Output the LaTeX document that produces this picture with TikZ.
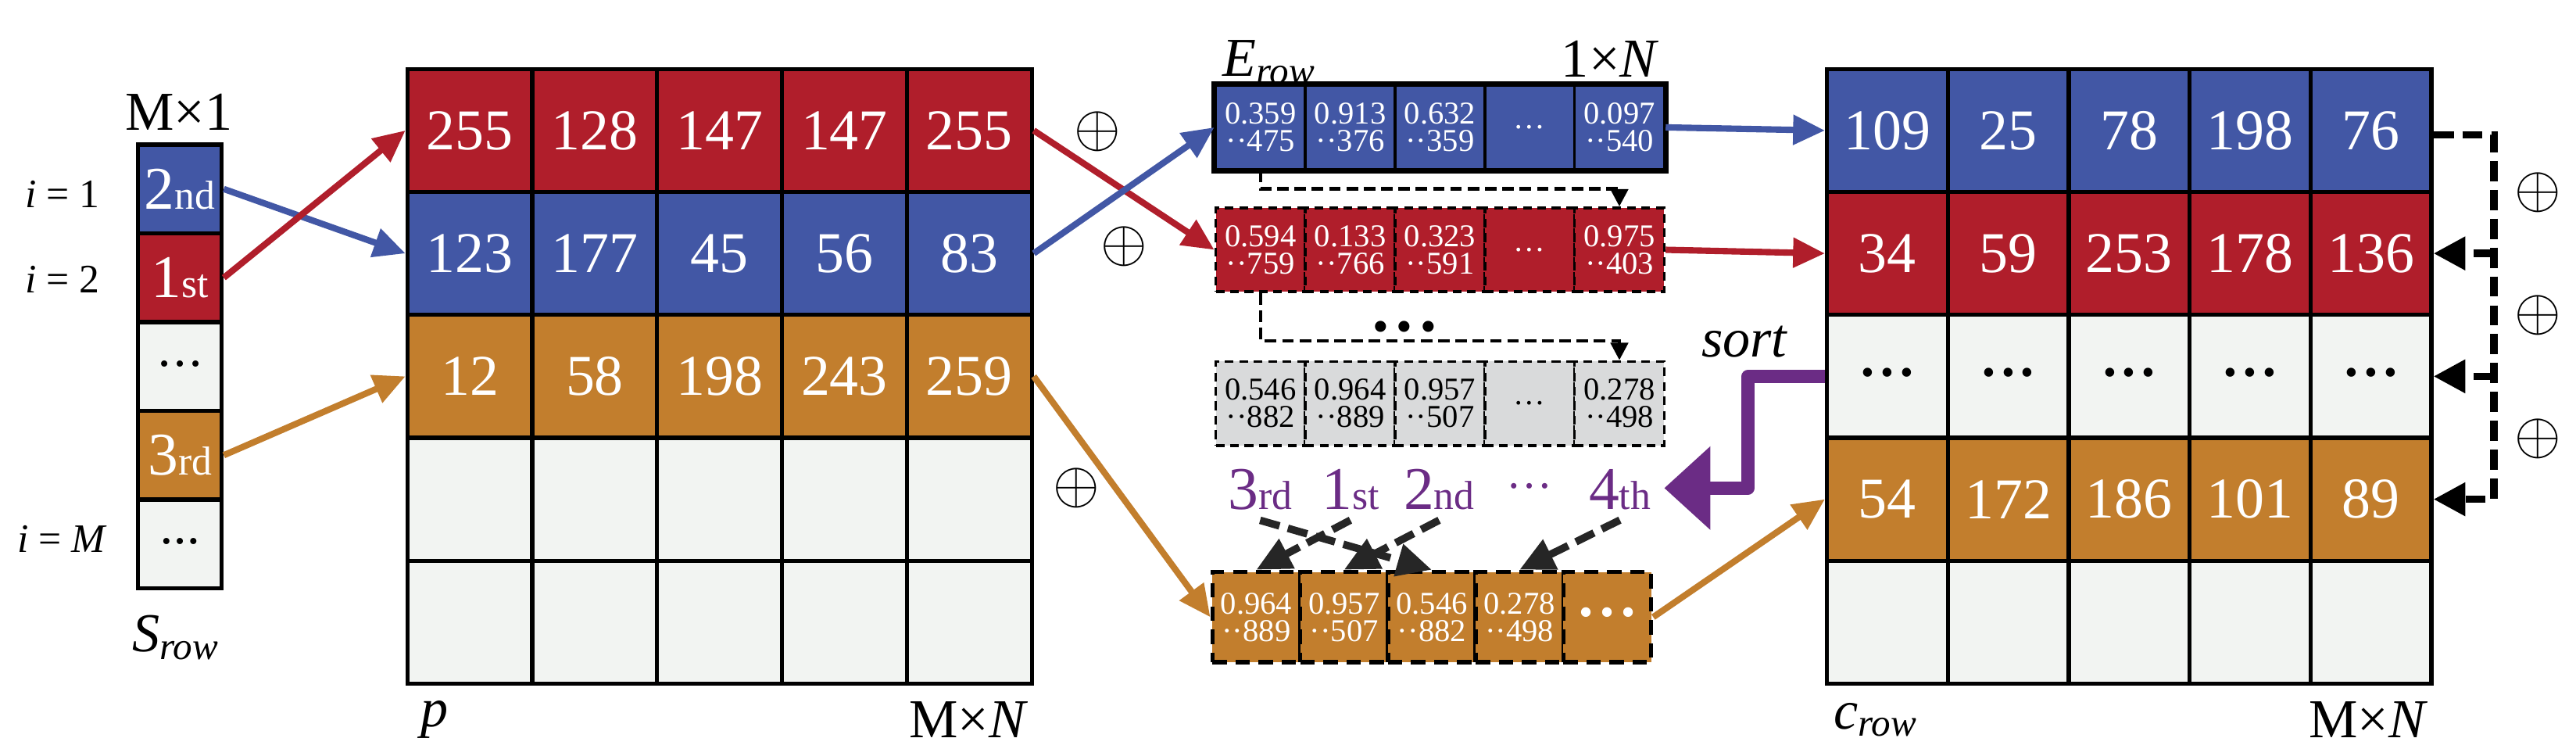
\documentclass[tikz,border=0pt]{standalone}
\usepackage{fontspec}
\setmainfont{Liberation Serif}
\usetikzlibrary{arrows.meta}
\definecolor{cr}{HTML}{B01E2B}
\definecolor{cb}{HTML}{4257A5}
\definecolor{co}{HTML}{C27E2D}
\definecolor{cl}{HTML}{F2F4F2}
\definecolor{cg}{HTML}{D9DADB}
\definecolor{cp}{HTML}{6B2C85}
\newcommand{\rk}[2]{{\fontsize{21}{21}\selectfont #1}{\fontsize{14}{14}\selectfont #2}}
\newcommand{\two}[2]{#1\\[-1pt]\textperiodcentered\textperiodcentered#2}
\newcommand{\iv}[2]{\textit{#1}\textsubscript{\textit{#2}}}
\newcommand{\bdots}{\textbullet\,\textbullet\,\textbullet}
\begin{document}
\begin{tikzpicture}[x=0.02cm,y=-0.02cm,
  pc/.style={draw=black,line width=1.4pt,minimum width=76*0.02cm,minimum height=74.8*0.02cm,inner sep=0,text=white,font=\fontsize{20}{20}\selectfont},
  cc/.style={pc,minimum width=73.6*0.02cm},
  sc/.style={draw=black,line width=1.4pt,minimum width=51*0.02cm,minimum height=54*0.02cm,inner sep=0,text=white},
  ec/.style={draw=black,line width=1pt,minimum width=54.6*0.02cm,minimum height=51*0.02cm,inner sep=0,text=white,align=center,font=\fontsize{11}{10.5}\selectfont},
  ed/.style={ec,dashed,dash pattern=on 3pt off 2pt},
  oc/.style={ec,dashed,line width=1.5pt,dash pattern=on 5pt off 3pt,minimum width=53.4*0.02cm,minimum height=55*0.02cm},
  carr/.style={line width=2.2pt,-{Triangle[length=11pt,width=10pt]}},
  darr/.style={line width=1.2pt,dashed,dash pattern=on 4pt off 2pt,-{Triangle[length=6pt,width=6pt]}},
  karr/.style={line width=2.6pt,black!85,dash pattern=on 7pt off 3pt,-{Triangle[length=12pt,width=11pt]}},
  rarr/.style={line width=2.6pt,dash pattern=on 7pt off 3pt,-{Triangle[length=11pt,width=11pt]}},
  lab/.style={font=\fontsize{19}{19}\selectfont},
  ilab/.style={font=\fontsize{14}{14}\selectfont},
  oplus/.style={font=\fontsize{20}{20}\selectfont}]
\useasboundingbox (0,0) rectangle (1568,460);

% S_row
\node[sc,fill=cb] (s1) at (109.5,115) {\rk{2}{nd}};
\node[sc,fill=cr] (s2) at (109.5,169) {\rk{1}{st}};
\node[sc,fill=cl,text=black,font=\small] (s3) at (109.5,223) {\textbullet\ \textbullet\ \textbullet};
\node[sc,fill=co] (s4) at (109.5,277) {\rk{3}{rd}};
\node[sc,fill=cl,text=black,font=\small] (s5) at (109.5,331) {\bdots};
\node[lab] (sdim) at (109,68) {M\texttimes1};
\node[ilab] (i1) at (38,118) {\textit{i} = 1};
\node[ilab] (i2) at (38,170) {\textit{i} = 2};
\node[ilab] (iM) at (38,328) {\textit{i} = \textit{M}};
\node[lab] (srow) at (107,388) {\iv{S}{row}};

% p matrix
\foreach \v [count=\j] in {255,128,147,147,255}
  \node[pc,fill=cr] (p1\j) at ({248+76*(\j-0.5)},79.4) {\v};
\foreach \v [count=\j] in {123,177,45,56,83}
  \node[pc,fill=cb] (p2\j) at ({248+76*(\j-0.5)},154.2) {\v};
\foreach \v [count=\j] in {12,58,198,243,259}
  \node[pc,fill=co] (p3\j) at ({248+76*(\j-0.5)},229) {\v};
\foreach \j in {1,...,5}{
  \node[pc,fill=cl] (p4\j) at ({248+76*(\j-0.5)},303.8) {};
  \node[pc,fill=cl] (p5\j) at ({248+76*(\j-0.5)},378.6) {};}
\node[lab,anchor=west] (plab) at (250,438) {\textit{p}};
\node[lab,anchor=east] (pdim) at (632,438) {M\texttimes\textit{N}};

\draw[carr,cb] (s1.east) -- (p21.west);
\draw[carr,cr] (s2.east) -- (p11.west);
\draw[carr,co] (s4.east) -- (p31.west);

% E rows
\foreach \t [count=\j] in {{\two{0.359}{475}},{\two{0.913}{376}},{\two{0.632}{359}},{\dots},{\two{0.097}{540}}}
  \node[ec,fill=cb] (b\j) at ({740+54.6*(\j-0.5)},77.5) {\t};
\draw[line width=1.8pt] (b1.north west) rectangle (b5.south east);
\foreach \t [count=\j] in {{\two{0.594}{759}},{\two{0.133}{766}},{\two{0.323}{591}},{\dots},{\two{0.975}{403}}}
  \node[ed,fill=cr] (r\j) at ({740+54.6*(\j-0.5)},152) {\t};
\foreach \t [count=\j] in {{\two{0.546}{882}},{\two{0.964}{889}},{\two{0.957}{507}},{\dots},{\two{0.278}{498}}}
  \node[ed,fill=cg,text=black] (g\j) at ({740+54.6*(\j-0.5)},245.5) {\t};
\foreach \t [count=\j] in {{\two{0.964}{889}},{\two{0.957}{507}},{\two{0.546}{882}},{\two{0.278}{498}},{\fontsize{14}{14}\selectfont\textbullet\,\textbullet\,\textbullet}}
  \node[oc,fill=co] (o\j) at ({738+53.4*(\j-0.5)},375.5) {\t};
\node[lab,anchor=west] (elab) at (738,38) {\iv{E}{row}};
\node[lab,anchor=east] (edim) at (1016,36) {1\texttimes\textit{N}};
\node[font=\fontsize{16}{16}\selectfont] (edots) at (855,202) {\textbullet\,\textbullet\,\textbullet};

\draw[darr] (b1.south) -- ++(0,11) -| (r5.north);
\draw[darr] (r1.south) -- ++(0,29) -| (g5.north);

\draw[carr,cr] (p15.east) -- (r1.west);
\draw[carr,cb] (p25.east) -- (b1.west);
\draw[carr,co] (p35.east) -- (o1.west);
\node[oplus] (op1) at (668,80) {$\oplus$};
\node[oplus] (op2) at (684,150) {$\oplus$};
\node[oplus] (op3) at (655,297) {$\oplus$};

% ranks
\node[text=cp] (k1) at (767,298) {\rk{3}{rd}};
\node[text=cp] (k2) at (822,298) {\rk{1}{st}};
\node[text=cp] (k3) at (876,298) {\rk{2}{nd}};
\node[text=cp,font=\fontsize{16}{16}\selectfont] (k4) at (931,296) {\dots};
\node[text=cp] (k5) at (986,298) {\rk{4}{th}};
\draw[karr] (k1.south) -- (o3.north);
\draw[karr] (k2.south) -- (o1.north);
\draw[karr] (k3.south) -- (o2.north);
\draw[karr] (k5.south) -- (o4.north);

% c matrix
\foreach \v [count=\j] in {109,25,78,198,76}
  \node[cc,fill=cb] (c1\j) at ({1112+73.6*(\j-0.5)},79.4) {\v};
\foreach \v [count=\j] in {34,59,253,178,136}
  \node[cc,fill=cr] (c2\j) at ({1112+73.6*(\j-0.5)},154.2) {\v};
\foreach \j in {1,...,5}
  \node[cc,fill=cl,text=black,font=\fontsize{13}{13}\selectfont] (c3\j) at ({1112+73.6*(\j-0.5)},229) {\textbullet\,\textbullet\,\textbullet};
\foreach \v [count=\j] in {54,172,186,101,89}
  \node[cc,fill=co] (c4\j) at ({1112+73.6*(\j-0.5)},303.8) {\v};
\foreach \j in {1,...,5}
  \node[cc,fill=cl] (c5\j) at ({1112+73.6*(\j-0.5)},378.6) {};
\node[lab,anchor=west] (clab) at (1110,438) {\iv{c}{row}};
\node[lab,anchor=east] (cdim) at (1484,438) {M\texttimes\textit{N}};

\draw[carr,cb] (b5.east) -- (c11.west);
\draw[carr,cr] (r5.east) -- (c21.west);
\draw[carr,co] (o5.east) -- (c41.west);

% sort arrow
\coordinate (sk) at (1064,229);
\coordinate (sd) at (1064,297);
\coordinate (st) at (1013,297);
\draw[cp,line width=4.5pt,line join=round,-{Triangle[length=16pt,width=28pt]}] (c31.west) -- (sk) -- (sd) -- (st);
\node[lab] (sortl) at (1062,208) {\textit{sort}};

% right dashed
\coordinate (rt) at (1518,82);
\draw[rarr] (c15.east |- rt) -- (rt) |- (c45.east);
\draw[rarr] (rt |- c25.east) -- (c25.east);
\draw[rarr] (rt |- c35.east) -- (c35.east);
\node[oplus] (op4) at (1545,117) {$\oplus$};
\node[oplus] (op5) at (1545,192) {$\oplus$};
\node[oplus] (op6) at (1545,267) {$\oplus$};
\end{tikzpicture}
\end{document}
